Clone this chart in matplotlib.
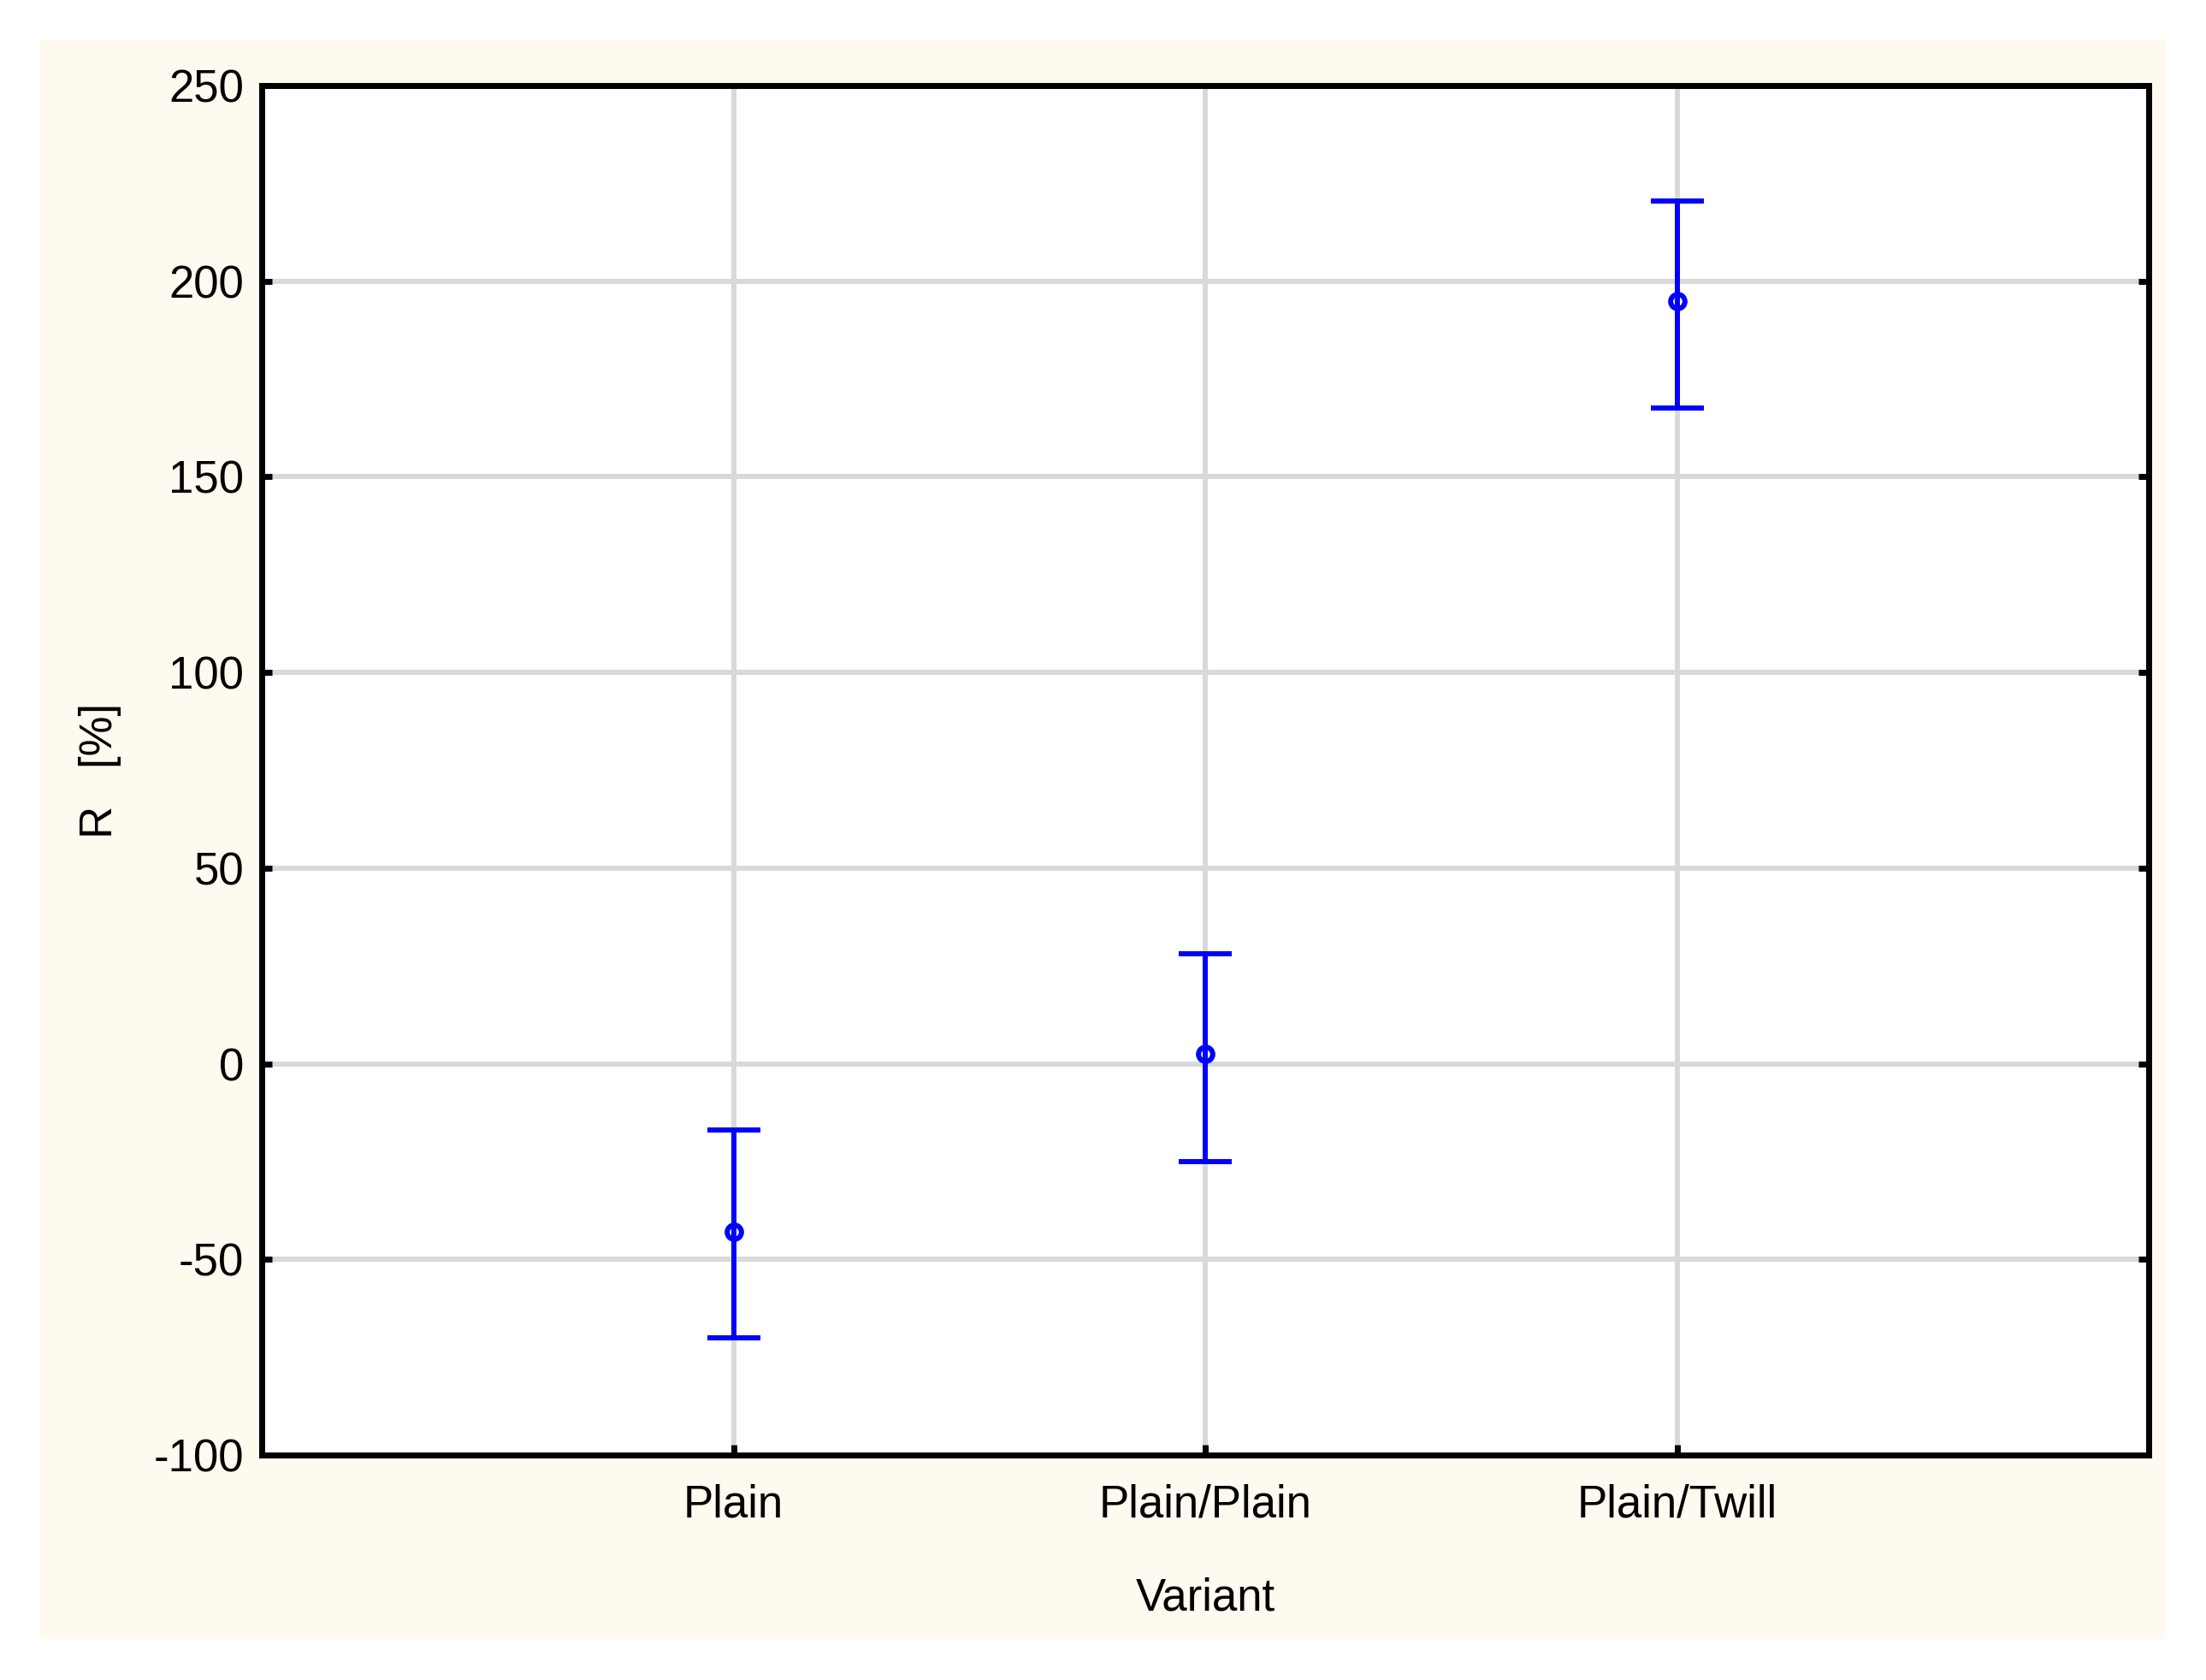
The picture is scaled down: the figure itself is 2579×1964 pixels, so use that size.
import matplotlib
matplotlib.use("Agg")
import matplotlib.pyplot as plt
from matplotlib.patches import Rectangle

# category means with upper/lower interval ends
variants = ["Plain", "Plain/Plain", "Plain/Twill"]
means = [-43.0, 2.5, 195.0]
upper = [-17.0, 28.0, 220.5]
lower = [-70.0, -25.0, 167.5]
yticks = [-100, -50, 0, 50, 100, 150, 200, 250]

plt.rcParams['font.family'] = ['Liberation Sans', 'DejaVu Sans']

W, H = 2579, 1964
fig = plt.figure(figsize=(W / 100, H / 100), dpi=100)
fig.patch.set_facecolor("white")
# cream panel behind the plot
fig.patches.append(Rectangle((46 / W, 1 - 1916 / H), (2533 - 46) / W, (1916 - 46) / H,
                             transform=fig.transFigure, facecolor="#fefaf0",
                             edgecolor="none", zorder=-10))

ax = fig.add_axes([306 / W, 1 - 1701 / H, (2512 - 306) / W, (1701 - 100) / H])
ax.set_zorder(1)
ax.set_facecolor("white")

xs = list(range(1, len(variants) + 1))
yerr = [[m - lo for m, lo in zip(means, lower)], [up - m for m, up in zip(means, upper)]]
ax.errorbar(xs, means, yerr=yerr, fmt="o", color="#0000ff", ecolor="#0000ff",
            elinewidth=4.3, capsize=22, capthick=4.3, markersize=12,
            markerfacecolor="none", markeredgewidth=4.3, zorder=3)

ax.set_xlim(0, 4)
ax.set_ylim(-100, 250)
ax.set_xticks(xs)
ax.set_xticklabels(variants)
ax.set_yticks(yticks)
ax.set_yticklabels([str(v) for v in yticks])

ax.grid(True, color="#d9d9d9", linewidth=4.3, zorder=1)
ax.set_axisbelow(True)
for sp in ax.spines.values():
    sp.set_linewidth(5)
    sp.set_color("black")

ax.tick_params(axis="y", direction="in", length=8.5, width=5, left=True, right=True,
               labelsize=38, pad=15)
ax.tick_params(axis="x", direction="in", length=8.5, width=5, bottom=True, top=False,
               labelsize=38, pad=24)

ax.set_xlabel("Variant", fontsize=38)
ax.set_ylabel("R   [%]", fontsize=38)
ax.xaxis.set_label_coords(0.5, -0.0893)
ax.yaxis.set_label_coords(-0.0745, 0.5)

fig.savefig("out.png", dpi=100)
